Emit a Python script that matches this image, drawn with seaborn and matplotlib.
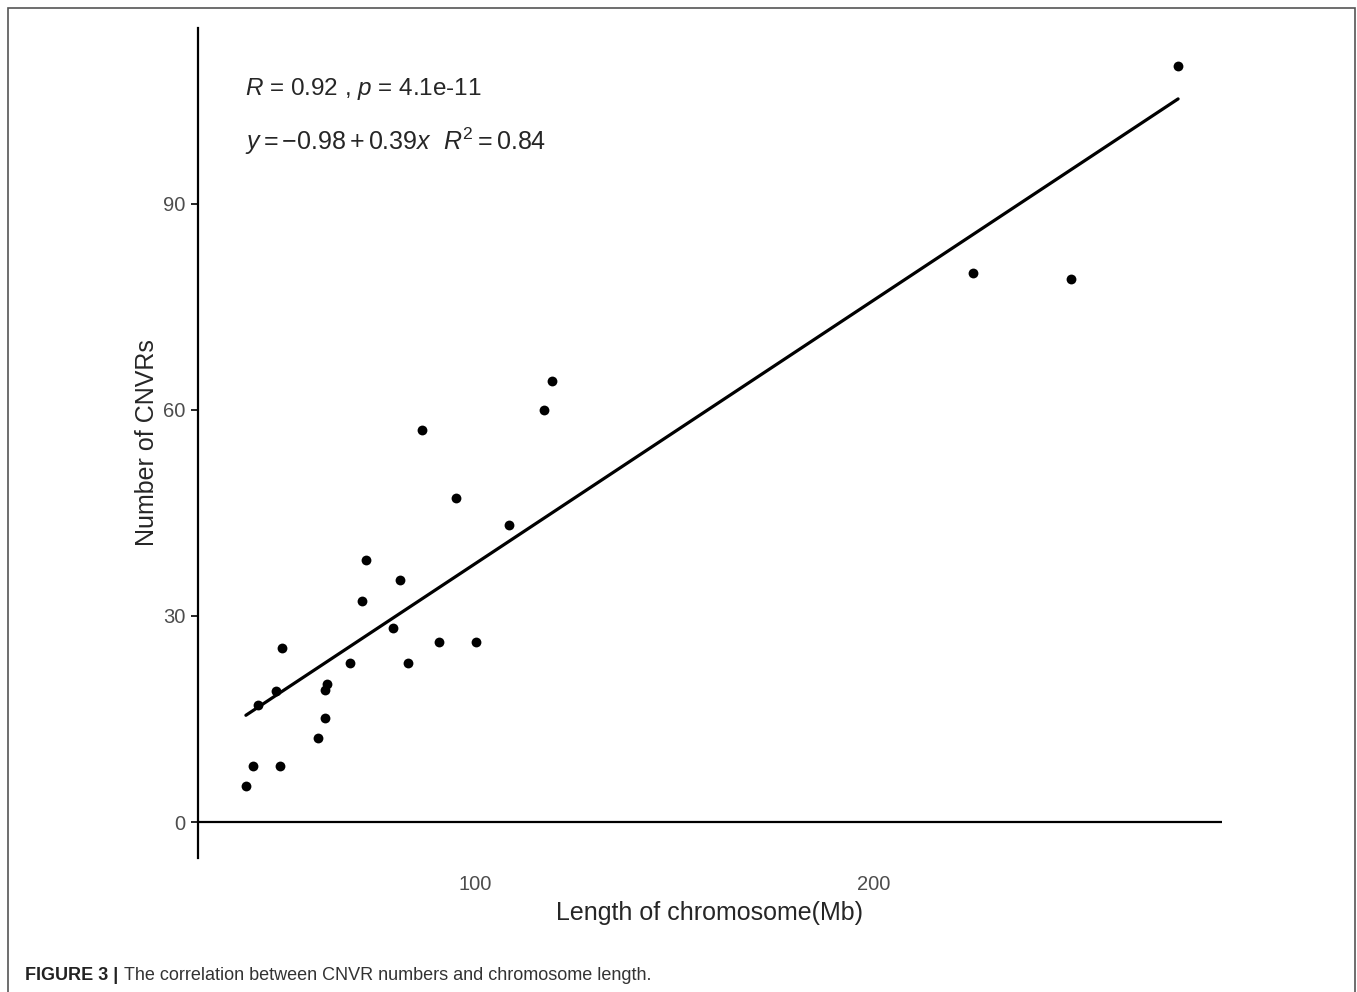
import matplotlib
matplotlib.use('Agg')
import matplotlib.pyplot as plt
import pandas as pd
import seaborn as sns
from matplotlib.patches import Rectangle

# Chromosome length (Mb) and number of CNVRs
length_mb = [42.6, 44.4, 45.6, 50.1, 51.1, 51.6, 60.7, 62.4, 62.4, 62.9,
             68.7, 71.7, 72.7, 79.4, 81.2, 83.2, 86.7, 91.0, 95.2, 100.3,
             108.5, 117.3, 119.3, 224.8, 249.4, 276.2]
n_cnvr = [5.2, 8.2, 17.0, 19.1, 8.2, 25.3, 12.2, 15.1, 19.2, 20.1,
          23.2, 32.2, 38.2, 28.3, 35.2, 23.2, 57.1, 26.2, 47.2, 26.2,
          43.3, 60.0, 64.2, 80.0, 79.1, 110.1]

x_ticks = [100, 200]
y_ticks = [0, 30, 60, 90]

df = pd.DataFrame({'length': length_mb, 'cnvr': n_cnvr})

sns.set_style('white')
plt.rcParams['font.family'] = ['Liberation Sans', 'DejaVu Sans']
plt.rcParams['mathtext.fontset'] = 'custom'
plt.rcParams['mathtext.rm'] = 'Liberation Sans'
plt.rcParams['mathtext.it'] = 'Liberation Sans:italic'

fig = plt.figure(figsize=(13.57, 9.92), dpi=100)
ax = fig.add_axes([198 / 1357, 1 - 858 / 992, (1222 - 198) / 1357, (858 - 28) / 992])

sns.regplot(data=df, x='length', y='cnvr', ax=ax, ci=None,
            scatter_kws=dict(s=50, color='black', linewidths=0, alpha=1),
            line_kws=dict(color='black', lw=2.3))
ax.axhline(0, color='black', lw=1.6)

ax.set_xlim(30.6, 287.2)
ax.set_ylim(-5.24, 115.6)
ax.set_xticks(x_ticks)
ax.set_yticks(y_ticks)
ax.tick_params(axis='x', length=0, pad=12, labelsize=14.5, labelcolor='#4d4d4d')
ax.tick_params(axis='y', length=5, width=1.2, pad=4, labelsize=14.5,
               labelcolor='#4d4d4d', color='black', left=True)
for side in ['top', 'right', 'bottom']:
    ax.spines[side].set_visible(False)
ax.spines['left'].set_color('black')
ax.spines['left'].set_linewidth(1.6)

ax.set_xlabel('Length of chromosome(Mb)', fontsize=18, labelpad=5)
ax.set_ylabel('Number of CNVRs', fontsize=18, labelpad=3)

ax.text(0.046, 0.926, r'$R$ = 0.92 , $p$ = 4.1e-11', transform=ax.transAxes,
        fontsize=17.5, va='center', ha='left')
ax.text(0.046, 0.864, r'$y = -0.98 + 0.39x$  $R^2 = 0.84$', transform=ax.transAxes,
        fontsize=18, va='center', ha='left')

# outer frame and caption
fig.patches.append(Rectangle((8 / 1357, -0.01), (1355 - 8) / 1357, 1 - 8 / 992 + 0.01,
                             transform=fig.transFigure, fill=False,
                             edgecolor='#555555', lw=1.2))
fig.text(25 / 1357, 1 - 975 / 992, 'FIGURE 3 |', fontsize=13, fontweight='bold',
         color='#222222', va='center', ha='left')
fig.text(124 / 1357, 1 - 975 / 992,
         'The correlation between CNVR numbers and chromosome length.',
         fontsize=13, color='#333333', va='center', ha='left')

fig.savefig('out.png', dpi=100)
